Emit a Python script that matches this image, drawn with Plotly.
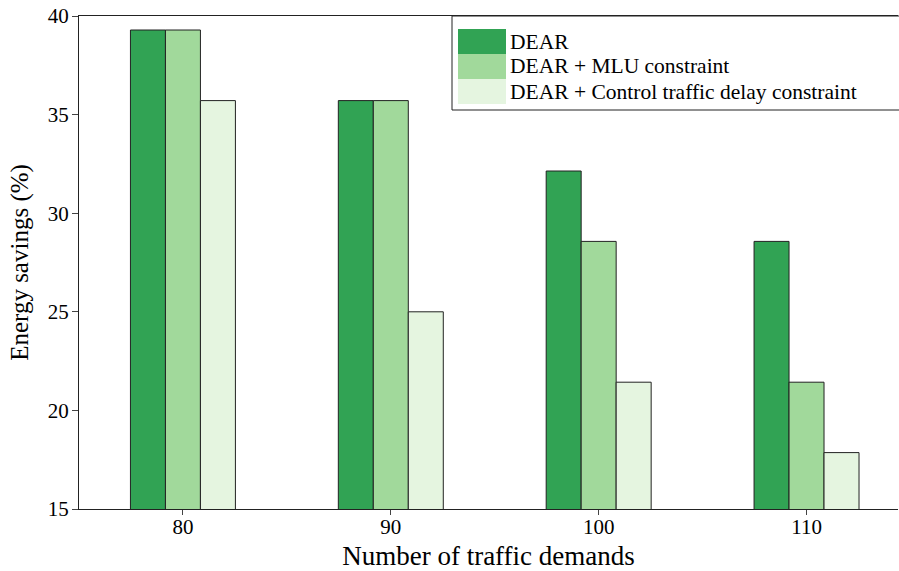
import plotly.graph_objects as go

categories = [80, 90, 100, 110]
series_names = ["DEAR", "DEAR + MLU constraint", "DEAR + Control traffic delay constraint"]
dear = [39.29, 35.71, 32.14, 28.57]
dear_mlu = [39.29, 35.71, 28.57, 21.43]
dear_delay = [35.71, 25.0, 21.43, 17.86]
colors = ["#31a354", "#a1d99b", "#e5f5e0"]
y_ticks = [15, 20, 25, 30, 35, 40]

FONT = "Liberation Serif"
fig = go.Figure()
for name, vals, c in zip(series_names, [dear, dear_mlu, dear_delay], colors):
    fig.add_trace(go.Bar(x=categories, y=vals, name=name, marker_color=c,
                         marker_line=dict(color="#222", width=1), showlegend=False))

W, H = 899, 571
L, R, T, B = 79, 1, 16, 62
pw, ph = W - L - R, H - T - B

def px(x):
    return (x - L) / pw

def py(y):
    return (H - B - y) / ph

shapes = [dict(type="rect", xref="paper", yref="paper", x0=px(452), x1=1.01,
               y0=py(110), y1=1, line=dict(color="#222", width=1), fillcolor="white", layer="above")]
annotations = []
row_tops = [29, 54, 79]
for i, (name, c) in enumerate(zip(series_names, colors)):
    t = row_tops[i]
    shapes.append(dict(type="rect", xref="paper", yref="paper", x0=px(458), x1=px(506),
                       y0=py(t + 25), y1=py(t), line=dict(width=0), fillcolor=c, layer="above"))
    annotations.append(dict(xref="paper", yref="paper", x=px(508), y=py(t + 12.5), text=name,
                            showarrow=False, xanchor="left", yanchor="middle",
                            font=dict(family=FONT, size=21.5, color="black")))

fig.update_layout(
    width=W, height=H, margin=dict(l=L, r=R, t=T, b=B),
    plot_bgcolor="white", paper_bgcolor="white",
    barmode="group", bargap=0.495, bargroupgap=0,
    font=dict(family=FONT, size=21, color="black"),
    shapes=shapes, annotations=annotations,
    xaxis=dict(range=[75, 114.4], tickvals=categories, ticktext=[str(c) for c in categories],
               ticks="outside", ticklen=5, tickcolor="#444", showline=True, linecolor="#222",
               linewidth=1, mirror=True, showgrid=False, zeroline=False, ticklabelstandoff=-6,
               title=dict(text="Number of traffic demands", font=dict(family=FONT, size=27), standoff=12),
               tickfont=dict(family=FONT, size=21)),
    yaxis=dict(range=[15, 40], tickvals=y_ticks, ticks="outside", ticklen=6, tickcolor="#444",
               showline=True, linecolor="#222", linewidth=1, showgrid=False, zeroline=False,
               ticklabelstandoff=-1,
               title=dict(text="Energy savings (%)", font=dict(family=FONT, size=25), standoff=12),
               tickfont=dict(family=FONT, size=21)),
)
fig.write_html("out.html", config={"displayModeBar": False},
               post_script="document.body.style.margin='0';document.body.style.overflow='hidden';")
